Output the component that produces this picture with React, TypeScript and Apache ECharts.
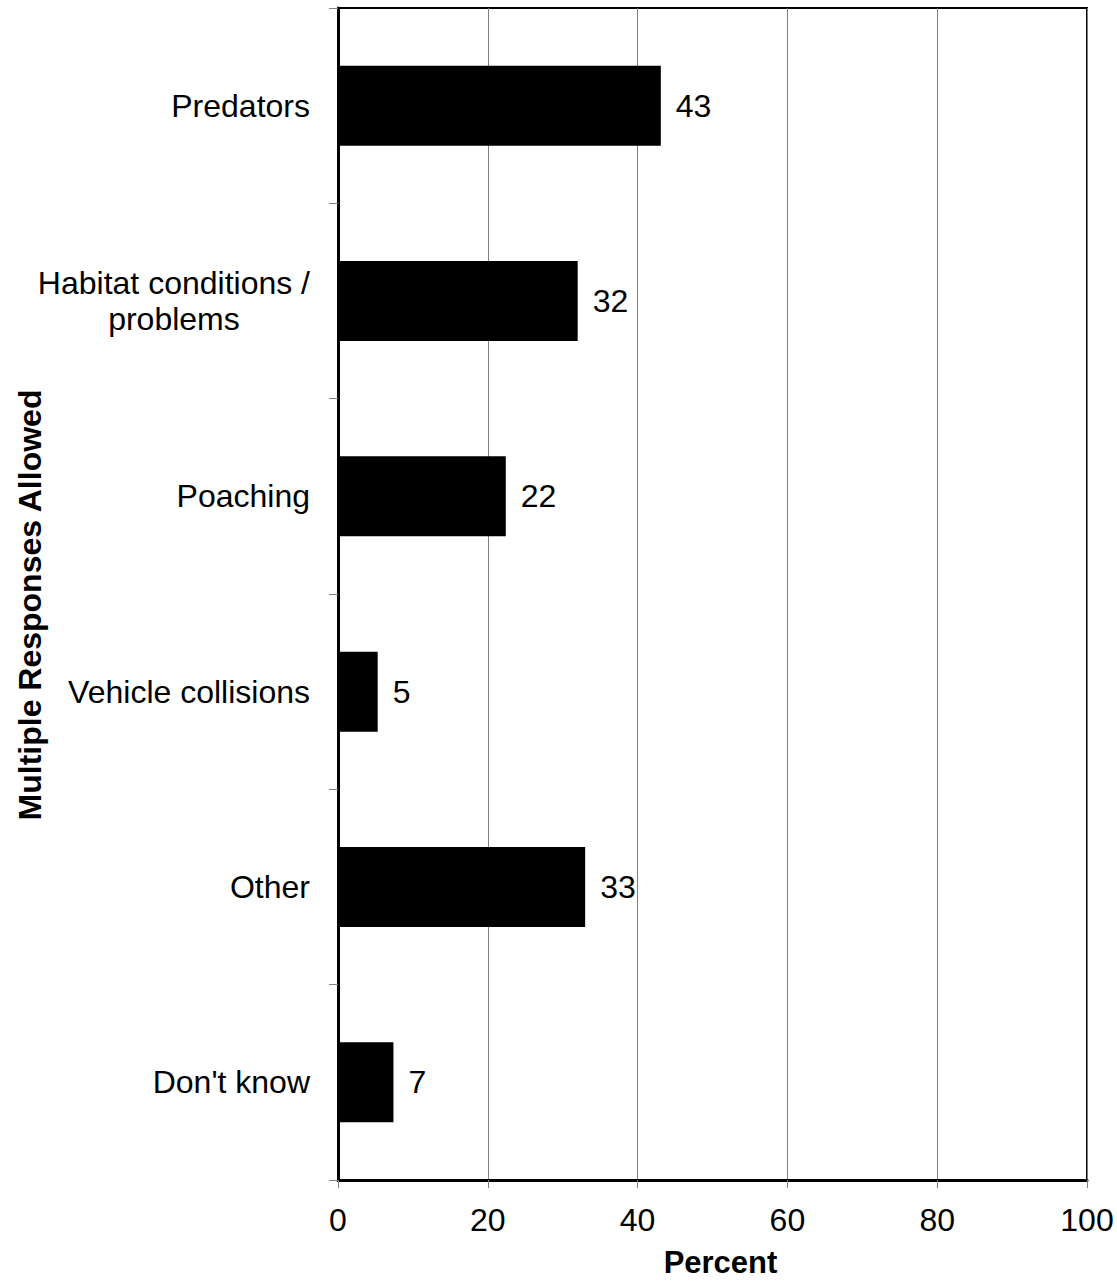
import React, { useEffect, useRef } from "react";
import * as echarts from "echarts";

const categories = [
  "Predators",
  "Habitat conditions /\nproblems",
  "Poaching",
  "Vehicle collisions",
  "Other",
  "Don't know",
];
const values = [43.1, 32, 22.4, 5.3, 33, 7.4];
const xTicks = { min: 0, max: 100, interval: 20 };
const xAxisName = "Percent";
const yAxisName = "Multiple Responses Allowed";

const FONT = "'Liberation Sans', Arial, Helvetica, sans-serif";

export default function App() {
  const ref = useRef<HTMLDivElement>(null);
  useEffect(() => {
    if (!ref.current) return;
    const chart = echarts.init(ref.current, null, { renderer: "svg" });
    chart.setOption({
      animation: false,
      backgroundColor: "#ffffff",
      textStyle: { fontFamily: FONT, color: "#000" },
      grid: {
        left: 338,
        right: 30,
        top: 8,
        bottom: 105,
        show: true,
        borderColor: "#000",
        borderWidth: 2,
        backgroundColor: "transparent",
      },
      xAxis: {
        type: "value",
        min: xTicks.min,
        max: xTicks.max,
        interval: xTicks.interval,
        name: xAxisName,
        nameLocation: "middle",
        nameGap: 67,
        nameTextStyle: {
          fontFamily: FONT,
          fontSize: 31,
          fontWeight: "bold",
          color: "#000",
          padding: [0, 0, 0, 16],
        },
        axisLine: { show: true, lineStyle: { color: "#000", width: 3 } },
        axisTick: { show: true, length: 8, lineStyle: { color: "#808080", width: 1 } },
        axisLabel: { fontFamily: FONT, fontSize: 32, color: "#000", margin: 24 },
        splitLine: { show: true, lineStyle: { color: "#808080", width: 1 } },
      },
      yAxis: {
        type: "category",
        data: categories,
        inverse: true,
        axisLine: { show: true, lineStyle: { color: "#000", width: 3 } },
        axisTick: { show: true, length: 9, lineStyle: { color: "#808080", width: 1 } },
        axisLabel: {
          fontFamily: FONT,
          fontSize: 32,
          color: "#000",
          margin: 28,
          lineHeight: 36,
          formatter: (v: string) => {
            if (v.indexOf("\n") >= 0) {
              return v
                .split("\n")
                .map((s) => "{c|" + s + "}")
                .join("\n");
            }
            return v;
          },
          rich: {
            c: {
              align: "center",
              fontFamily: FONT,
              fontSize: 32,
              color: "#000",
              lineHeight: 36,
            },
          },
        },
        splitLine: { show: false },
      },
      series: [
        {
          type: "bar",
          data: values,
          barWidth: 80,
          itemStyle: { color: "#000" },
          label: {
            show: true,
            position: "right",
            distance: 15,
            fontFamily: FONT,
            fontSize: 32,
            color: "#000",
            formatter: (p: any) => String(Math.round(p.value)),
          },
        },
      ],
      graphic: [
        {
          type: "text",
          x: 30,
          y: 605,
          rotation: Math.PI / 2,
          style: {
            text: yAxisName,
            fontFamily: FONT,
            fontSize: 32,
            fontWeight: "bold",
            fill: "#000",
            align: "center",
            verticalAlign: "middle",
          },
        },
      ],
    });
    return () => chart.dispose();
  }, []);
  return (
    <div
      ref={ref}
      style={{ position: "absolute", left: 0, top: 0, width: 1117, height: 1285 }}
    />
  );
}
